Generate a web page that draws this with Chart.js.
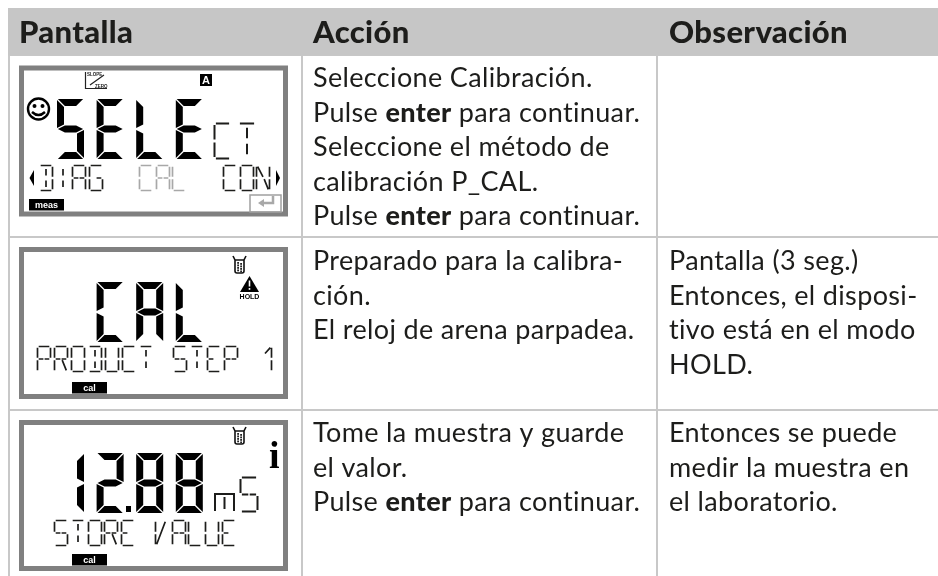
<!DOCTYPE html>
<html lang="es">
<head>
<meta charset="utf-8">
<title>Pantalla, Acción, Observación</title>
<script src="https://cdn.jsdelivr.net/npm/chart.js@4"></script>
<style>
  html, body { margin: 0; padding: 0; background: #fff; }
  #wrap { width: 938px; height: 576px; }
</style>
</head>
<body>
<div id="wrap"><canvas id="tabla" width="938" height="576" aria-label="Pantalla SELECT DIAG CAL CON; CAL PRODUCT STEP 1; 12.88 mS STORE VALUE"></canvas></div>
<script>
// table content
let headers = ['Pantalla', 'Acción', 'Observación'];
let acciones = [
    ['Seleccione Calibración.', 'Pulse **enter** para continuar.', 'Seleccione el método de', 'calibración P_CAL.', 'Pulse **enter** para continuar.'],
    ['Preparado para la calibra-', 'ción.', 'El reloj de arena parpadea.'],
    ['Tome la muestra y guarde', 'el valor.', 'Pulse **enter** para continuar.']
];
let observaciones = [
    [],
    ['Pantalla (3 seg.)', 'Entonces, el disposi-', 'tivo está en el modo', 'HOLD.'],
    ['Entonces se puede', 'medir la muestra en', 'el laboratorio.']
];

// what the three LCD screens show
let lcdMain = ['SELE', 'CAL', '12.88'];
let lcdLower = ['DIAG  CAL  CON', 'PRODUCT STEP 1', 'STORE VALUE'];
let lcdMode = ['meas', 'cal', 'cal'];

// table rules, in page pixels
let columnEdges = [9, 301.5, 657];
let rowEdges = [55, 237, 410];

const INK = '#1d1d1b';
const RULE = '#c8c8c8';
const FRAME = '#808080';
const BODY_FONT = '27px Lato';
const BOLD_FONT = '900 27px Lato';

// big 7 segment glyphs
const SEG7 = {
    S: 'afgcd', E: 'afged', L: 'fed', C: 'afed', A: 'abcefg',
    '1': 'bc', '2': 'abged', '8': 'abcdefg'
};
// thin 14 segment glyphs
const SEG14 = {
    A: ['a', 'b', 'c', 'e', 'f', 'g1', 'g2'], C: ['a', 'd', 'e', 'f'], D: ['a', 'b', 'c', 'd', 'i', 'l'],
    E: ['a', 'd', 'e', 'f', 'g1'], G: ['a', 'c', 'd', 'e', 'f', 'g2'], I: ['i', 'l'],
    L: ['d', 'e', 'f'], N: ['b', 'c', 'e', 'f', 'h', 'k'], O: ['a', 'b', 'c', 'd', 'e', 'f'],
    P: ['a', 'b', 'e', 'f', 'g1', 'g2'], R: ['a', 'b', 'e', 'f', 'g1', 'g2', 'k'],
    S: ['a', 'c', 'd', 'f', 'g1', 'g2'], T: ['a', 'i', 'l'], U: ['b', 'c', 'd', 'e', 'f'],
    V: ['e', 'f', 'v'], '1': ['b', 'c', 'j']
};

function polygon(ctx, pts) {
    ctx.beginPath();
    pts.forEach((p, i) => i ? ctx.lineTo(p[0], p[1]) : ctx.moveTo(p[0], p[1]));
    ctx.closePath();
    ctx.fill();
}

function bigGlyph(ctx, ch, x, y) {
    let w = 27, h = 60, t = 7, g = 0.9, m = h / 2;
    let shapes = {
        a: [[x + g, y], [x + w - g, y], [x + w - t - g, y + t], [x + t + g, y + t]],
        d: [[x + g, y + h], [x + w - g, y + h], [x + w - t - g, y + h - t], [x + t + g, y + h - t]],
        f: [[x, y + g], [x + t, y + t + g], [x + t, y + m - t / 2 - g], [x, y + m - g]],
        e: [[x, y + h - g], [x + t, y + h - t - g], [x + t, y + m + t / 2 + g], [x, y + m + g]],
        b: [[x + w, y + g], [x + w - t, y + t + g], [x + w - t, y + m - t / 2 - g], [x + w, y + m - g]],
        c: [[x + w, y + h - g], [x + w - t, y + h - t - g], [x + w - t, y + m + t / 2 + g], [x + w, y + m + g]],
        g: [[x + g, y + m], [x + t + g, y + m - t / 2], [x + w - t - g, y + m - t / 2], [x + w - g, y + m], [x + w - t - g, y + m + t / 2], [x + t + g, y + m + t / 2]]
    };
    for (let s of SEG7[ch]) polygon(ctx, shapes[s]);
}

function thinGlyph(ctx, ch, x, y, w, h, lw, color) {
    let g = lw * 0.7, m = h / 2, c = w / 2;
    let lines = {
        a: [g, 0, w - g, 0], d: [g, h, w - g, h],
        f: [0, g, 0, m - g], e: [0, m + g, 0, h - g],
        b: [w, g, w, m - g], c: [w, m + g, w, h - g],
        g1: [g, m, c - g / 2, m], g2: [c + g / 2, m, w - g, m],
        i: [c, g * 3, c, m - g * 2], l: [c, m + g * 2, c, h - g * 3],
        h: [g, g, c, m - g], k: [c + g, m + g, w - g, h - g],
        j: [c, h * 0.28, w - g, g], v: [g, h - g, w * 0.75, g]
    };
    ctx.strokeStyle = color;
    ctx.lineWidth = lw;
    ctx.beginPath();
    for (let s of SEG14[ch]) {
        let l = lines[s];
        ctx.moveTo(x + l[0], y + l[1]);
        ctx.lineTo(x + l[2], y + l[3]);
    }
    ctx.stroke();
}

function thinText(ctx, text, x, y, pitch, color) {
    [...text].forEach((ch, i) => {
        if (ch === ' ') return;
        thinGlyph(ctx, ch, Math.round(x + i * pitch) + 0.5, y + 0.5, 13, 25, 1.7, color);
    });
}

function richLine(ctx, line, x, y) {
    line.split('**').forEach((part, i) => {
        ctx.font = i % 2 ? BOLD_FONT : BODY_FONT;
        ctx.fillText(part, x, y);
        x += ctx.measureText(part).width;
    });
}

function modeTag(ctx, label, x, y) {
    ctx.fillStyle = '#000';
    ctx.fillRect(x, y, 35, 11.5);
    ctx.fillStyle = '#fff';
    ctx.font = 'bold 9px "Liberation Sans"';
    ctx.textAlign = 'center';
    ctx.fillText(label, x + 17.5, y + 8.5);
    ctx.textAlign = 'left';
}

function beaker(ctx, x, y) {
    ctx.strokeStyle = '#111';
    ctx.lineWidth = 1.6;
    ctx.beginPath();
    ctx.moveTo(x, y);
    ctx.lineTo(x + 2, y + 4);
    ctx.lineTo(x + 2, y + 15);
    ctx.quadraticCurveTo(x + 2, y + 17, x + 4, y + 17);
    ctx.lineTo(x + 9, y + 17);
    ctx.quadraticCurveTo(x + 11, y + 17, x + 11, y + 15);
    ctx.lineTo(x + 11, y + 4);
    ctx.lineTo(x + 13, y);
    ctx.moveTo(x + 2, y + 4);
    ctx.lineTo(x + 11, y + 4);
    ctx.stroke();
    ctx.fillStyle = '#222';
    for (let dy = 6; dy < 15; dy += 2.5) {
        ctx.fillRect(x + 4.2, y + dy, 1.8, 1.8);
        ctx.fillRect(x + 7.2, y + dy + 1, 1.8, 1.8);
    }
}

function screen1(ctx) {
    // slope icon
    ctx.strokeStyle = '#222';
    ctx.lineWidth = 1.2;
    ctx.beginPath();
    ctx.moveTo(85.5, 72);
    ctx.lineTo(85.5, 88.5);
    ctx.lineTo(107, 88.5);
    ctx.moveTo(90, 85);
    ctx.lineTo(104, 75);
    ctx.stroke();
    ctx.fillStyle = '#222';
    ctx.font = 'bold 4.5px "Liberation Sans"';
    ctx.fillText('SLOPE', 87, 76);
    ctx.fillText('ZERO', 95, 87.5);
    // channel A
    ctx.fillStyle = '#000';
    ctx.fillRect(200, 74, 12, 12);
    ctx.fillStyle = '#fff';
    ctx.font = 'bold 11px "Liberation Sans"';
    ctx.fillText('A', 202, 84);
    // smiley
    ctx.strokeStyle = '#000';
    ctx.lineWidth = 2.4;
    ctx.beginPath();
    ctx.arc(38.5, 109, 10.5, 0, Math.PI * 2);
    ctx.moveTo(32, 112);
    ctx.quadraticCurveTo(38.5, 118, 45, 112);
    ctx.stroke();
    ctx.fillStyle = '#000';
    ctx.beginPath();
    ctx.arc(34.5, 106, 2, 0, Math.PI * 2);
    ctx.arc(42.5, 106, 2, 0, Math.PI * 2);
    ctx.fill();
    // softkey arrows
    polygon(ctx, [[29.5, 178], [34, 170], [34, 186]]);
    polygon(ctx, [[280, 178], [276, 170], [276, 186]]);
    // enter key
    ctx.strokeStyle = '#a0a0a0';
    ctx.lineWidth = 1.5;
    ctx.strokeRect(250, 195, 31, 17);
    ctx.strokeStyle = '#a8a8a8';
    ctx.lineWidth = 2.5;
    ctx.beginPath();
    ctx.moveTo(273, 196);
    ctx.lineTo(273, 203);
    ctx.lineTo(262, 203);
    ctx.stroke();
    ctx.fillStyle = '#a8a8a8';
    polygon(ctx, [[258, 203], [264, 199], [264, 207]]);
}

function screen2(ctx) {
    beaker(ctx, 233, 256);
    ctx.fillStyle = '#000';
    polygon(ctx, [[249.5, 276], [259, 292], [240, 292]]);
    ctx.fillStyle = '#fff';
    ctx.fillRect(248.7, 280.5, 1.6, 6);
    ctx.fillRect(248.7, 288, 1.6, 1.8);
    ctx.fillStyle = '#000';
    ctx.font = 'bold 7px "Liberation Sans"';
    ctx.textAlign = 'center';
    ctx.fillText('HOLD', 249.5, 299);
    ctx.textAlign = 'left';
}

function screen3(ctx) {
    beaker(ctx, 233, 427);
    ctx.fillStyle = '#000';
    ctx.font = 'bold 38px "Liberation Serif"';
    ctx.fillText('i', 269, 468);
    // decimal point of the main value
    ctx.fillRect(126, 506, 5, 6);
    // m of mS
    ctx.strokeStyle = INK;
    ctx.lineWidth = 2;
    ctx.beginPath();
    ctx.moveTo(215, 511);
    ctx.lineTo(215, 494);
    ctx.lineTo(234, 494);
    ctx.lineTo(234, 511);
    ctx.moveTo(224.5, 497);
    ctx.lineTo(224.5, 509);
    ctx.stroke();
}

const lcdBoxes = [[19, 65.5, 269, 151], [19, 247, 269, 152], [19, 420, 269, 151]];

let tablePlugin = {
    id: 'tablePlugin',
    beforeDatasetsDraw(chart) {
        let ctx = chart.ctx, sx = chart.scales.x, sy = chart.scales.y;
        ctx.save();
        // header band over the rules
        ctx.fillStyle = '#c6c6c6';
        ctx.fillRect(sx.left, sy.top, sx.right - sx.left, sy.getPixelForValue(55.5) - sy.top);

        ctx.textBaseline = 'alphabetic';
        ctx.fillStyle = INK;
        ctx.letterSpacing = '0.35px';
        ctx.font = '900 31px Lato';
        let colX = [19, 313, 669];
        headers.forEach((h, i) => ctx.fillText(h, sx.getPixelForValue(colX[i]), sy.getPixelForValue(43)));

        let firstLine = [87, 270, 442];
        acciones.forEach((lines, r) => lines.forEach((line, i) => {
            richLine(ctx, line, sx.getPixelForValue(colX[1]), sy.getPixelForValue(firstLine[r] + i * 34.6));
        }));
        observaciones.forEach((lines, r) => lines.forEach((line, i) => {
            richLine(ctx, line, sx.getPixelForValue(colX[2]), sy.getPixelForValue(firstLine[r] + i * 34.6));
        }));
        ctx.letterSpacing = '0px';

        // LCD screens
        lcdBoxes.forEach(b => {
            ctx.strokeStyle = FRAME;
            ctx.lineWidth = 5;
            ctx.strokeRect(b[0] + 2.5, b[1] + 2.5, b[2] - 5, b[3] - 5);
        });
        ctx.fillStyle = '#000';
        let mainY = [99, 282, 453], mainX = 57, pitch = 39.6;
        lcdMain.forEach((txt, r) => {
            let cell = r === 1 ? 1 : 0;
            [...txt.replace('.', '')].forEach(ch => {
                bigGlyph(ctx, ch, mainX + cell * pitch, mainY[r]);
                cell++;
            });
        });
        thinGlyph(ctx, 'C', 214.5, 123.5, 16, 35, 2, INK);
        thinGlyph(ctx, 'T', 238.5, 123.5, 17, 35, 2, INK);
        thinGlyph(ctx, 'S', 240.5, 477.5, 17, 34, 2, INK);
        thinText(ctx, lcdLower[0].slice(0, 4), 39, 165, 16.7, INK);
        thinText(ctx, lcdLower[0].slice(6, 9), 139, 165, 16.7, '#a8a8a8');
        thinText(ctx, lcdLower[0].slice(11), 223, 165, 16.7, INK);
        thinText(ctx, lcdLower[1], 37, 346, 17, INK);
        thinText(ctx, lcdLower[2], 54, 520, 16.8, INK);
        modeTag(ctx, lcdMode[0], 29, 199);
        modeTag(ctx, lcdMode[1], 72, 382);
        modeTag(ctx, lcdMode[2], 72, 554);
        screen1(ctx);
        screen2(ctx);
        screen3(ctx);
        ctx.restore();
    }
};

let chart1 = new Chart(document.getElementById('tabla').getContext('2d'), {
    type: 'scatter',
    data: { datasets: [{ data: [], pointRadius: 0 }] },
    plugins: [tablePlugin],
    options: {
        responsive: false,
        animation: false,
        layout: { padding: { left: 8, top: 8, right: 0, bottom: 0 } },
        plugins: { legend: { display: false }, title: { display: false }, tooltip: { enabled: false } },
        scales: {
            x: {
                min: 8, max: 938,
                afterBuildTicks: s => { s.ticks = columnEdges.map(v => ({ value: v })); },
                ticks: { display: false },
                grid: { color: RULE, lineWidth: 2, drawTicks: false },
                border: { display: false }
            },
            y: {
                min: 8, max: 576, reverse: true,
                afterBuildTicks: s => { s.ticks = rowEdges.map(v => ({ value: v })); },
                ticks: { display: false },
                grid: { color: RULE, lineWidth: 2, drawTicks: false },
                border: { display: false }
            }
        }
    }
});
</script>
</body>
</html>
